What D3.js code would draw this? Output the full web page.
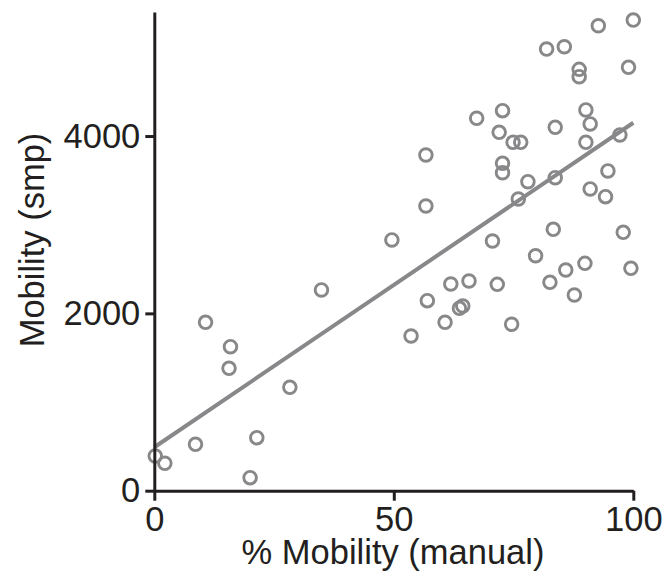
<!DOCTYPE html>
<html>
<head>
<meta charset="utf-8">
<script src="https://cdn.jsdelivr.net/npm/d3@7"></script>
<style>
  body { margin: 0; background: #fff; }
  svg text { font-family: "Liberation Sans", Arial, sans-serif; fill: #231f20; }
</style>
</head>
<body>
<svg width="667" height="577"></svg>
<script>
// % mobility (manual) vs mobility (smp)
var manual = [100.0, 92.7, 81.9, 85.6, 88.7, 88.7, 99.0, 67.3, 72.7, 72.0,
              74.9, 76.5, 83.7, 90.1, 91.0, 90.1, 97.2, 56.7, 72.7, 72.7,
              78.0, 83.7, 94.7, 91.0, 94.2, 76.0, 56.7, 49.6, 70.6, 83.3,
              97.9, 79.6, 85.9, 89.9, 99.5, 82.6, 87.7, 61.9, 65.7, 71.6,
              57.0, 64.4, 63.7, 60.7, 53.6, 74.6, 34.9, 10.7, 15.9, 15.6,
              28.3, 0.2, 2.2, 8.6, 21.4, 20.0];
var smp = [5308, 5244, 4981, 5007, 4752, 4669, 4775, 4200, 4286, 4042,
           3929, 3929, 4098, 4294, 4136, 3929, 4012, 3786, 3692, 3586,
           3485, 3530, 3606, 3403, 3316, 3290, 3211, 2828, 2816, 2948,
           2914, 2650, 2489, 2564, 2508, 2350, 2207, 2331, 2365, 2327,
           2143, 2083, 2057, 1899, 1745, 1877, 2264, 1899, 1624, 1380,
           1166, 391, 309, 523, 598, 147];

// linear fit line ends
var fitX = [0, 100];
var fitY = [490, 4150];

var xTicks = [0, 50, 100];
var yTicks = [0, 2000, 4000];

var svg = d3.select("svg"),
    grey = "#88888a",
    ink = "#231f20";

var x = d3.scaleLinear().domain([0, 100]).range([154.3, 633.3]);
var y = d3.scaleLinear().domain([0, 5400]).range([490.7, 11.9]);

// fit line
var line = d3.line()
    .x(function(d) { return x(d[0]); })
    .y(function(d) { return y(d[1]); });

svg.append("path")
    .datum(d3.zip(fitX, fitY))
    .attr("fill", "none")
    .attr("stroke", grey)
    .attr("stroke-width", 4)
    .attr("d", line);

// points
svg.append("g")
    .selectAll("circle")
    .data(d3.zip(manual, smp))
    .enter().append("circle")
    .attr("cx", function(d) { return x(d[0]); })
    .attr("cy", function(d) { return y(d[1]); })
    .attr("r", 6.3)
    .attr("fill", "none")
    .attr("stroke", grey)
    .attr("stroke-width", 2.9);

// axes
var gx = svg.append("g")
    .attr("transform", "translate(0," + y(0) + ")")
    .call(d3.axisBottom(x).tickValues(xTicks).tickSize(10).tickSizeOuter(0).tickPadding(6));

var gy = svg.append("g")
    .attr("transform", "translate(" + x(0) + ",0)")
    .call(d3.axisLeft(y).tickValues(yTicks).tickFormat(d3.format("d")).tickSize(9).tickSizeOuter(0).tickPadding(5));

[gx, gy].forEach(function(g) {
    g.select(".domain").attr("stroke", ink).attr("stroke-width", 3);
    g.selectAll(".tick line").attr("stroke", ink).attr("stroke-width", 3);
    g.selectAll(".tick text").attr("fill", ink).style("font-size", "34.5px");
    g.attr("font-family", null).attr("font-size", null);
});

// titles
svg.append("text")
    .attr("x", 393)
    .attr("y", 564)
    .attr("text-anchor", "middle")
    .style("font-size", "34.5px")
    .text("% Mobility (manual)");

svg.append("text")
    .attr("transform", "translate(44,240) rotate(-90)")
    .attr("text-anchor", "middle")
    .style("font-size", "34.5px")
    .text("Mobility (smp)");
</script>
</body>
</html>
